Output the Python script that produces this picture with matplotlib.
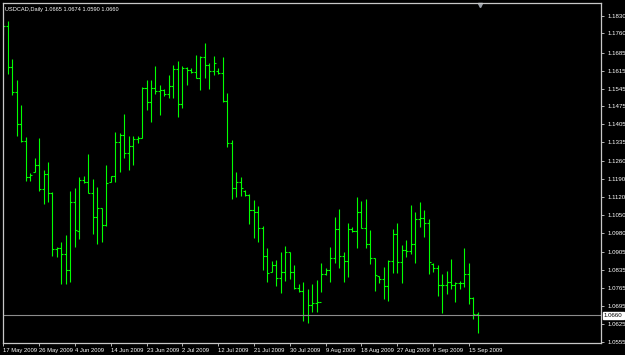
import matplotlib
matplotlib.use("Agg")
import matplotlib.pyplot as plt
import numpy as np

symbol_title = "USDCAD,Daily 1.0665 1.0674 1.0590 1.0660"

opens = [1.1760, 1.1789, 1.1629, 1.1531, 1.1406, 1.1340, 1.1199, 1.1219, 1.1246, 1.1152,
         1.1211, 1.1137, 1.0918, 1.0922, 1.0899, 1.0836, 1.1102, 1.0988, 1.1188, 1.1180,
         1.1137, 1.1043, 1.1078, 1.1012, 1.1180, 1.1203, 1.1336, 1.1363, 1.1293, 1.1320,
         1.1348, 1.1352, 1.1547, 1.1492, 1.1547, 1.1535, 1.1539, 1.1523, 1.1555, 1.1621,
         1.1484, 1.1625, 1.1617, 1.1609, 1.1586, 1.1668, 1.1637, 1.1613, 1.1613, 1.1605,
         1.1496, 1.1332, 1.1156, 1.1180, 1.1145, 1.1129, 1.1070, 1.1063, 1.1000, 1.0891,
         1.0828, 1.0856, 1.0805, 1.0828, 1.0906, 1.0828, 1.0766, 1.0754, 1.0660, 1.0700,
         1.0707, 1.0711, 1.0821, 1.0836, 1.0883, 1.0996, 1.0891, 1.0871, 1.0996, 1.0988,
         1.1063, 1.1000, 1.0938, 1.0883, 1.0813, 1.0801, 1.0774, 1.0871, 1.0977, 1.0867,
         1.0914, 1.0910, 1.0938, 1.1035, 1.1039, 1.1020, 1.0860, 1.0844, 1.0778, 1.0778,
         1.0789, 1.0778, 1.0785, 1.0785, 1.0821, 1.0727, 1.0665]

highs = [1.1793, 1.1809, 1.1660, 1.1578, 1.1480, 1.1356, 1.1215, 1.1274, 1.1352, 1.1227,
         1.1258, 1.1141, 1.0926, 1.0946, 1.0973, 1.1145, 1.1156, 1.1199, 1.1203, 1.1289,
         1.1191, 1.1160, 1.1078, 1.1246, 1.1203, 1.1375, 1.1371, 1.1445, 1.1359, 1.1359,
         1.1359, 1.1551, 1.1578, 1.1578, 1.1633, 1.1559, 1.1543, 1.1598, 1.1637, 1.1652,
         1.1633, 1.1629, 1.1625, 1.1676, 1.1672, 1.1723, 1.1644, 1.1672, 1.1625, 1.1668,
         1.1527, 1.1344, 1.1219, 1.1199, 1.1149, 1.1133, 1.1110, 1.1086, 1.1008, 1.0922,
         1.0871, 1.0875, 1.0906, 1.0930, 1.0906, 1.0856, 1.0781, 1.0789, 1.0762, 1.0781,
         1.0797, 1.0864, 1.0844, 1.0926, 1.1043, 1.1074, 1.0906, 1.1020, 1.1004, 1.1121,
         1.1106, 1.1113, 1.0992, 1.0883, 1.0813, 1.0848, 1.0875, 1.0996, 1.1020, 1.0934,
         1.0953, 1.1090, 1.1063, 1.1102, 1.1070, 1.1035, 1.0864, 1.0856, 1.0821, 1.0832,
         1.0879, 1.0789, 1.0793, 1.0922, 1.0864, 1.0731, 1.0674]

lows = [1.1754, 1.1601, 1.1520, 1.1359, 1.1336, 1.1184, 1.1184, 1.1219, 1.1145, 1.1094,
        1.1102, 1.0891, 1.0887, 1.0781, 1.0781, 1.0789, 1.0926, 1.0957, 1.1176, 1.1137,
        1.0977, 1.0938, 1.0946, 1.1008, 1.1180, 1.1180, 1.1219, 1.1274, 1.1227, 1.1246,
        1.1332, 1.1352, 1.1461, 1.1414, 1.1523, 1.1441, 1.1516, 1.1508, 1.1508, 1.1434,
        1.1469, 1.1559, 1.1605, 1.1586, 1.1539, 1.1586, 1.1543, 1.1598, 1.1601, 1.1492,
        1.1317, 1.1113, 1.1121, 1.1125, 1.1125, 1.1016, 1.0961, 1.0946, 1.0836, 1.0789,
        1.0828, 1.0774, 1.0746, 1.0793, 1.0801, 1.0762, 1.0750, 1.0637, 1.0629, 1.0672,
        1.0672, 1.0750, 1.0817, 1.0789, 1.0864, 1.0844, 1.0789, 1.0809, 1.0985, 1.0922,
        1.1000, 1.0922, 1.0860, 1.0754, 1.0785, 1.0723, 1.0715, 1.0824, 1.0824, 1.0785,
        1.0887, 1.0899, 1.0864, 1.1004, 1.0965, 1.0821, 1.0828, 1.0735, 1.0668, 1.0742,
        1.0762, 1.0711, 1.0762, 1.0770, 1.0703, 1.0645, 1.0590]

closes = [1.1789, 1.1629, 1.1531, 1.1406, 1.1340, 1.1199, 1.1207, 1.1246, 1.1152, 1.1211,
          1.1137, 1.0918, 1.0922, 1.0899, 1.0836, 1.1102, 1.0992, 1.1188, 1.1180, 1.1137,
          1.1043, 1.1078, 1.1012, 1.1176, 1.1203, 1.1336, 1.1363, 1.1293, 1.1320, 1.1348,
          1.1352, 1.1547, 1.1492, 1.1547, 1.1535, 1.1539, 1.1523, 1.1555, 1.1621, 1.1484,
          1.1625, 1.1617, 1.1609, 1.1586, 1.1668, 1.1637, 1.1613, 1.1644, 1.1605, 1.1496,
          1.1332, 1.1156, 1.1180, 1.1156, 1.1129, 1.1070, 1.1063, 1.1000, 1.0891, 1.0824,
          1.0856, 1.0805, 1.0828, 1.0906, 1.0828, 1.0766, 1.0754, 1.0660, 1.0700, 1.0707,
          1.0711, 1.0821, 1.0836, 1.0883, 1.0996, 1.0891, 1.0871, 1.0996, 1.0988, 1.1063,
          1.1000, 1.0938, 1.0883, 1.0817, 1.0801, 1.0774, 1.0871, 1.0977, 1.0867, 1.0914,
          1.0910, 1.0938, 1.1035, 1.1039, 1.1020, 1.0867, 1.0844, 1.0778, 1.0778, 1.0789,
          1.0778, 1.0785, 1.0785, 1.0821, 1.0727, 1.0664, 1.0660]

date_labels = ["17 May 2009", "26 May 2009", "4 Jun 2009", "14 Jun 2009", "23 Jun 2009",
               "2 Jul 2009", "12 Jul 2009", "21 Jul 2009", "30 Jul 2009", "9 Aug 2009",
               "18 Aug 2009", "27 Aug 2009", "6 Sep 2009", "15 Sep 2009"]
date_tick_bars = [0, 8, 16, 24, 32, 40, 48, 56, 64, 72, 80, 88, 96, 104]

price_ticks = [1.1830, 1.1760, 1.1685, 1.1615, 1.1545, 1.1475, 1.1405, 1.1335, 1.1260,
               1.1190, 1.1120, 1.1050, 1.0980, 1.0905, 1.0835, 1.0765, 1.0695, 1.0625, 1.0555]
current_price = 1.0660

W, H = 625, 355
fig = plt.figure(figsize=(W / 100, H / 100), dpi=100, facecolor="black")
ax = fig.add_axes([3 / W, 12 / H, 598 / W, 340 / H], facecolor="black")

n = len(closes)
x = np.arange(n)
bar_col = "#00ff00"
ax.vlines(x, lows, highs, color=bar_col, lw=0.8)
ax.hlines(opens, x - 0.45, x, color=bar_col, lw=0.8)
ax.hlines(closes, x, x + 0.45, color=bar_col, lw=0.8)

ax.axhline(current_price, color="#8c8c8c", lw=0.8)

ax.set_xlim(-0.05, 133.5)
ax.set_ylim(1.0551, 1.1879)

for s in ax.spines.values():
    s.set_color("#c8c8c8")
    s.set_linewidth(0.9)

ax.yaxis.tick_right()
ax.set_yticks(price_ticks)
ax.set_yticklabels([f"{p:.4f}" for p in price_ticks])
ax.tick_params(axis="y", colors="#d0d0d0", labelcolor="white", length=2.5, width=0.6,
               pad=2.0, labelsize=4.4)
for lab in ax.get_yticklabels():
    lab.set_fontfamily("Liberation Sans")

ax.set_xticks(date_tick_bars)
ax.set_xticklabels(date_labels)
ax.tick_params(axis="x", colors="#d0d0d0", labelcolor="white", length=2.5, width=0.6,
               pad=1.2, labelsize=4.2)
for lab in ax.get_xticklabels():
    lab.set_horizontalalignment("left")
    lab.set_fontfamily("Liberation Sans")

# current price box on the price scale
ax.text(1.005, current_price, f"{current_price:.4f}", transform=ax.get_yaxis_transform(),
        ha="left", va="center", fontsize=4.4, color="black", family="Liberation Sans",
        bbox=dict(boxstyle="square,pad=0.15", fc="white", ec="white"))

# symbol header
ax.text(0.004, 0.988, symbol_title, transform=ax.transAxes, ha="left", va="top",
        fontsize=4.1, color="white", family="Liberation Sans")

# chart-shift marker
ax.plot([106.5], [1.1873], marker="v", color="#9aa0a8", markersize=3, clip_on=False)

fig.savefig("out.png", dpi=100, facecolor="black")
